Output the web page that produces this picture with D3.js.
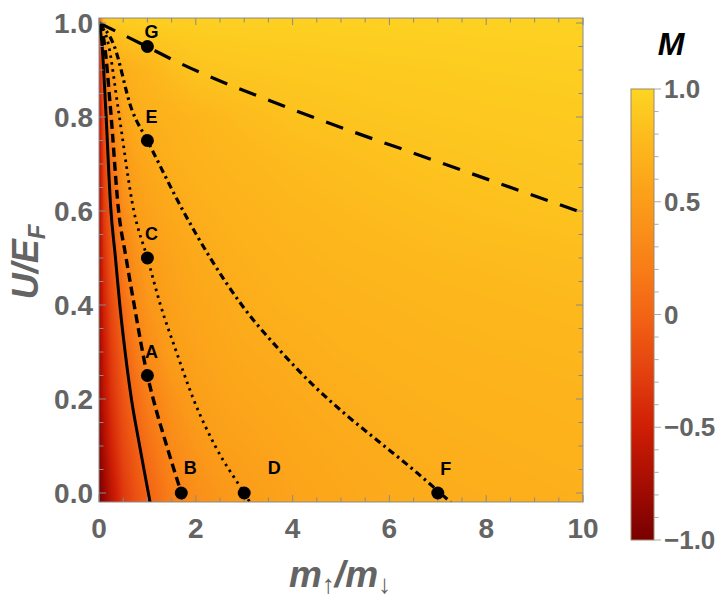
<!DOCTYPE html>
<html><head><meta charset="utf-8">
<script src="https://cdn.jsdelivr.net/npm/d3@7"></script>
<style>body{margin:0;background:#fff}</style>
</head><body>
<svg id="chart" width="727" height="600" xmlns="http://www.w3.org/2000/svg"></svg>
<script>
// ---------- data ----------
// M(x = m_up/m_down, y = U/E_F) sampled on a grid
const xGrid = [0, 0.1, 0.25, 0.5, 0.75, 1, 1.5, 2, 2.5, 3, 4, 5, 6, 7, 8, 10];
const yGrid = [0, 0.1, 0.2, 0.3, 0.4, 0.5, 0.6, 0.7, 0.8, 0.9, 1.0];
const mGrid = [
  [-1.00,-0.84,-0.62,-0.32,-0.14,-0.01,0.23,0.37,0.44,0.50,0.56,0.60,0.63,0.65,0.66,0.68],
  [-0.92,-0.72,-0.48,-0.21,-0.05,0.09,0.33,0.44,0.52,0.54,0.59,0.625,0.652,0.67,0.68,0.70],
  [-0.86,-0.62,-0.38,-0.12,0.05,0.21,0.40,0.52,0.55,0.58,0.62,0.655,0.675,0.69,0.70,0.72],
  [-0.82,-0.55,-0.30,-0.03,0.18,0.34,0.51,0.55,0.59,0.62,0.655,0.685,0.70,0.715,0.725,0.74],
  [-0.78,-0.47,-0.21,0.07,0.31,0.43,0.535,0.585,0.62,0.655,0.69,0.71,0.725,0.74,0.75,0.77],
  [-0.75,-0.38,-0.11,0.22,0.39,0.50,0.56,0.62,0.655,0.68,0.715,0.74,0.755,0.77,0.78,0.80],
  [-0.72,-0.30,-0.03,0.35,0.50,0.54,0.615,0.66,0.69,0.71,0.745,0.77,0.79,0.81,0.825,0.85],
  [-0.70,-0.24,0.11,0.45,0.545,0.605,0.67,0.70,0.725,0.745,0.78,0.805,0.83,0.85,0.86,0.88],
  [-0.64,-0.15,0.30,0.55,0.655,0.675,0.70,0.735,0.765,0.79,0.835,0.86,0.875,0.885,0.895,0.91],
  [-0.52,0.04,0.50,0.66,0.69,0.73,0.80,0.855,0.87,0.88,0.895,0.905,0.915,0.92,0.93,0.94],
  [-0.20,0.85,0.90,0.92,0.93,0.935,0.94,0.945,0.95,0.952,0.955,0.958,0.96,0.963,0.966,0.97]
];

// curves
const solidX   = [0, 0.06, 0.14, 0.24, 0.34, 0.43, 0.54, 0.67, 0.84, 1.02, 1.056];
const solidY   = [1, 0.957, 0.815, 0.61, 0.5, 0.4, 0.3, 0.2, 0.1, 0, -0.02];
const dashedX  = [0, 0.11, 0.24, 0.40, 0.56, 0.71, 1.0, 1.12, 1.4, 1.7, 1.76];
const dashedY  = [1, 0.957, 0.815, 0.605, 0.5, 0.41, 0.25, 0.2, 0.1, 0, -0.02];
const dottedX  = [0, 0.19, 0.40, 0.72, 1.0, 1.27, 1.6, 1.95, 2.4, 3.0, 3.12];
const dottedY  = [1, 0.957, 0.815, 0.6, 0.5, 0.4, 0.3, 0.2, 0.1, 0, -0.02];
const dashDotX = [0, 0.3, 0.68, 1.0, 1.74, 2.3, 2.95, 3.74, 4.43, 5.12, 5.81, 6.49, 7.05, 7.27];
const dashDotY = [1, 0.955, 0.815, 0.75, 0.6, 0.5, 0.4, 0.303, 0.229, 0.165, 0.107, 0.05, 0, -0.02];
const longDashX = [0, 0.85, 1.6, 3.95, 7.0, 10];
const longDashY = [1, 0.957, 0.918, 0.818, 0.705, 0.596];

// labelled points
const pointLabels = ["A", "B", "C", "D", "E", "F", "G"];
const pointX = [1, 1.7, 1, 3, 1, 7, 1];
const pointY = [0.25, 0, 0.5, 0, 0.75, 0, 0.95];

// ticks
const xMajorTicks = [0, 2, 4, 6, 8, 10];
const xTickLabels = ["0", "2", "4", "6", "8", "10"];
const yMajorTicks = [0, 0.2, 0.4, 0.6, 0.8, 1.0];
const yTickLabels = ["0.0", "0.2", "0.4", "0.6", "0.8", "1.0"];
const cbTicks = [-1, -0.5, 0, 0.5, 1];
const cbTickLabels = ["\u22121.0", "\u22120.5", "0", "0.5", "1.0"];

// colour map (legend)
const cStops  = [-1, -0.75, -0.5, -0.25, 0, 0.25, 0.5, 0.75, 1];
const cColors = ["#780000", "#a60c02", "#cf1e05", "#e44210", "#f36414", "#f98218", "#fb9d19", "#fdb71c", "#fdd522"];

// ---------- drawing ----------
const svg = d3.select("#chart");
const FONT = "'Liberation Sans', Arial, Helvetica, sans-serif";
const GRAY = "#646464";

const xScale = d3.scaleLinear().domain([0, 10]).range([99, 583]);
const yScale = d3.scaleLinear().domain([0, 1]).range([493, 23]);
const fx0 = xScale(0), fx1 = xScale(10);
const fy0 = yScale(1.0106), fy1 = yScale(-0.0191);
const color = d3.scaleLinear().domain(cStops).range(cColors).interpolate(d3.interpolateRgb).clamp(true);

// density raster
function sampleM(x, y) {
  x = Math.max(0, Math.min(10, x));
  y = Math.max(0, Math.min(1, y));
  let i = Math.min(xGrid.length - 2, Math.max(0, d3.bisectRight(xGrid, x) - 1));
  let j = Math.min(yGrid.length - 2, Math.max(0, d3.bisectRight(yGrid, y) - 1));
  const tx = (x - xGrid[i]) / (xGrid[i + 1] - xGrid[i]);
  const ty = (y - yGrid[j]) / (yGrid[j + 1] - yGrid[j]);
  const a = mGrid[j][i], b = mGrid[j][i + 1], c = mGrid[j + 1][i], d = mGrid[j + 1][i + 1];
  return (a * (1 - tx) + b * tx) * (1 - ty) + (c * (1 - tx) + d * tx) * ty;
}
const lut = d3.range(1001).map(k => d3.rgb(color(-1 + 2 * k / 1000)));
const pw = Math.round(fx1 - fx0), ph = Math.round(fy1 - fy0);
const canvas = document.createElement("canvas");
canvas.width = pw; canvas.height = ph;
const ctx = canvas.getContext("2d");
const img = ctx.createImageData(pw, ph);
for (let py = 0; py < ph; py++) {
  const yv = yScale.invert(fy0 + py + 0.5);
  for (let px = 0; px < pw; px++) {
    const xv = xScale.invert(fx0 + px + 0.5);
    const m = sampleM(xv, yv);
    const k = Math.max(0, Math.min(1000, Math.round((m + 1) * 500)));
    const c = lut[k];
    const o = (py * pw + px) * 4;
    img.data[o] = c.r; img.data[o + 1] = c.g; img.data[o + 2] = c.b; img.data[o + 3] = 255;
  }
}
ctx.putImageData(img, 0, 0);
svg.append("image").attr("x", fx0).attr("y", fy0).attr("width", pw).attr("height", ph)
  .attr("preserveAspectRatio", "none").attr("href", canvas.toDataURL());

// clip
svg.append("clipPath").attr("id", "plotclip").append("rect")
  .attr("x", fx0).attr("y", fy0).attr("width", fx1 - fx0).attr("height", fy1 - fy0);

// curves
const lineGen = d3.line().x(d => xScale(d[0])).y(d => yScale(d[1])).curve(d3.curveMonotoneX);
const curves = [
  { xs: solidX, ys: solidY, dash: null, w: 3 },
  { xs: dashedX, ys: dashedY, dash: "9,5", w: 3.4 },
  { xs: dottedX, ys: dottedY, dash: "2.5,4.5", w: 2.8 },
  { xs: dashDotX, ys: dashDotY, dash: "7,4,2.5,4", w: 3.2 },
  { xs: longDashX, ys: longDashY, dash: "18,13", w: 3.2 }
];
const gCurves = svg.append("g").attr("clip-path", "url(#plotclip)");
curves.forEach(c => {
  gCurves.append("path").datum(c.xs.map((x, i) => [x, c.ys[i]]))
    .attr("d", lineGen).attr("fill", "none").attr("stroke", "#000")
    .attr("stroke-width", c.w).attr("stroke-dasharray", c.dash);
});

// frame + ticks
const TICK = "#8a8a8a";
svg.append("rect").attr("x", fx0).attr("y", fy0).attr("width", fx1 - fx0).attr("height", fy1 - fy0)
  .attr("fill", "none").attr("stroke", TICK).attr("stroke-width", 1);
const gT = svg.append("g").attr("stroke", TICK).attr("stroke-width", 1);
d3.range(0, 10.001, 0.5).forEach(v => {
  const major = Math.abs(v / 2 - Math.round(v / 2)) < 1e-6;
  const L = major ? 7 : 4.5;
  const X = xScale(v);
  gT.append("line").attr("x1", X).attr("x2", X).attr("y1", fy1).attr("y2", fy1 - L);
  gT.append("line").attr("x1", X).attr("x2", X).attr("y1", fy0).attr("y2", fy0 + L);
});
d3.range(0, 1.0001, 0.05).forEach(v => {
  const major = Math.abs(v / 0.2 - Math.round(v / 0.2)) < 1e-6;
  const L = major ? 7 : 4.5;
  const Y = yScale(v);
  gT.append("line").attr("x1", fx0).attr("x2", fx0 + L).attr("y1", Y).attr("y2", Y);
  gT.append("line").attr("x1", fx1).attr("x2", fx1 - L).attr("y1", Y).attr("y2", Y);
});

// points
const gP = svg.append("g");
const labelOffset = { A: [4, -24], B: [9, -25], C: [4, -24], D: [30, -25], E: [4, -24], F: [8, -24], G: [4, -15] };
pointLabels.forEach((lab, i) => {
  const X = xScale(pointX[i]), Y = yScale(pointY[i]);
  gP.append("circle").attr("cx", X).attr("cy", Y).attr("r", 6.5).attr("fill", "#000");
  gP.append("text").attr("x", X + labelOffset[lab][0]).attr("y", Y + labelOffset[lab][1])
    .attr("text-anchor", "middle").attr("dominant-baseline", "central")
    .attr("font-family", FONT).attr("font-weight", "bold").attr("font-size", 18)
    .attr("fill", "#000").text(lab);
});

// tick labels
xMajorTicks.forEach((v, i) => {
  svg.append("text").attr("x", xScale(v)).attr("y", 538).attr("text-anchor", "middle")
    .attr("font-family", FONT).attr("font-weight", "bold").attr("font-size", 28)
    .attr("fill", GRAY).text(xTickLabels[i]);
});
yMajorTicks.forEach((v, i) => {
  svg.append("text").attr("x", 93).attr("y", yScale(v)).attr("text-anchor", "end")
    .attr("dominant-baseline", "central")
    .attr("font-family", FONT).attr("font-weight", "bold").attr("font-size", 28)
    .attr("fill", GRAY).text(yTickLabels[i]);
});

// axis titles
const xt = svg.append("text").attr("x", 340).attr("y", 587).attr("text-anchor", "middle")
  .attr("font-family", FONT).attr("font-weight", "bold").attr("font-style", "italic")
  .attr("font-size", 37).attr("fill", GRAY);
xt.append("tspan").text("m");
xt.append("tspan").attr("dy", 6).attr("font-size", 26).text("\u2191");
xt.append("tspan").attr("dy", -6).text("/m");
xt.append("tspan").attr("dy", 6).attr("font-size", 26).text("\u2193");

const yt = svg.append("text").attr("transform", "translate(38,262) rotate(-90)")
  .attr("text-anchor", "middle")
  .attr("font-family", FONT).attr("font-weight", "bold").attr("font-style", "italic")
  .attr("font-size", 36).attr("fill", GRAY);
yt.append("tspan").text("U/E");
yt.append("tspan").attr("dy", 7).attr("font-size", 24).text("F");

// colour bar
const cbScale = d3.scaleLinear().domain([-1, 1]).range([540, 89]);
const cbx = 631, cbw = 23;
const grad = svg.append("defs").append("linearGradient").attr("id", "cbgrad")
  .attr("x1", 0).attr("y1", 1).attr("x2", 0).attr("y2", 0);
d3.range(0, 1.0001, 0.05).forEach(t => {
  grad.append("stop").attr("offset", t).attr("stop-color", color(-1 + 2 * t));
});
svg.append("rect").attr("x", cbx).attr("y", cbScale(1)).attr("width", cbw)
  .attr("height", cbScale(-1) - cbScale(1)).attr("fill", "url(#cbgrad)")
  .attr("stroke", "#9c8a6e").attr("stroke-width", 1);
d3.range(-1, 1.0001, 0.1).forEach(v => {
  const major = Math.abs(v * 2 - Math.round(v * 2)) < 1e-6;
  svg.append("line").attr("x1", cbx + cbw).attr("x2", cbx + cbw + (major ? 7 : 4.5))
    .attr("y1", cbScale(v)).attr("y2", cbScale(v)).attr("stroke", "#aaaaaa").attr("stroke-width", 1);
});
cbTicks.forEach((v, i) => {
  svg.append("text").attr("x", 664).attr("y", cbScale(v)).attr("dominant-baseline", "central")
    .attr("font-family", FONT).attr("font-weight", "bold").attr("font-size", 26)
    .attr("fill", GRAY).text(cbTickLabels[i]);
});
svg.append("text").attr("x", 671).attr("y", 55).attr("text-anchor", "middle")
  .attr("font-family", FONT).attr("font-weight", "bold").attr("font-style", "italic")
  .attr("font-size", 32).attr("fill", "#000").text("M");
</script>
</body></html>
